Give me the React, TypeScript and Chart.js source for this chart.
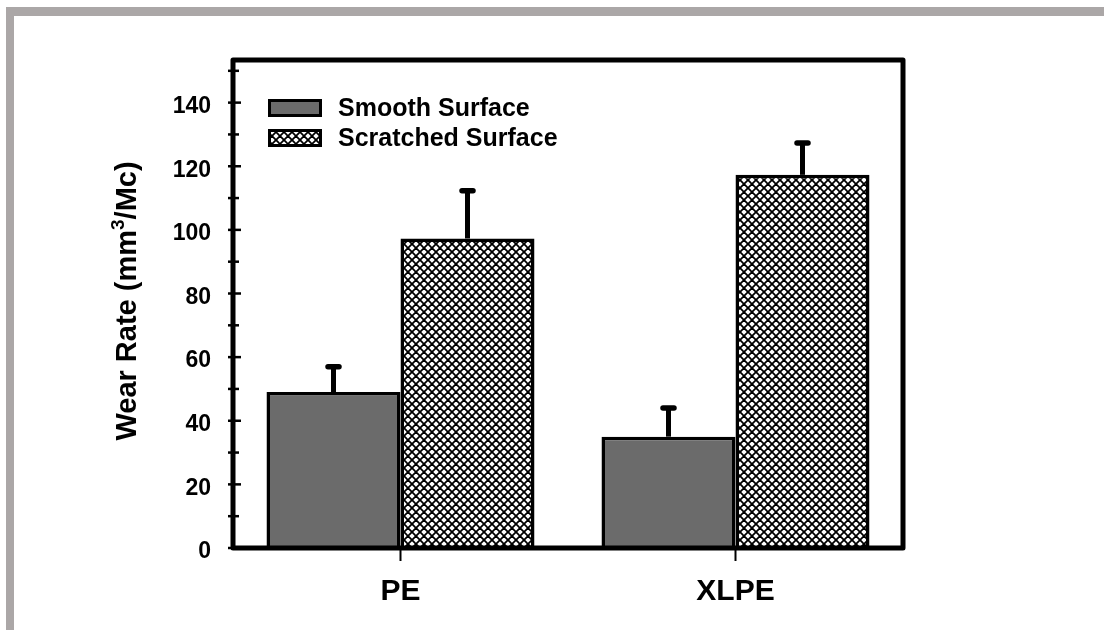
import React, { useEffect, useRef } from 'react';
import { Chart, registerables } from 'chart.js';

Chart.register(...registerables);

const categories = ['PE', 'XLPE'];
const seriesLabels = ['Smooth Surface', 'Scratched Surface'];
const smoothValues = [49, 35];
const smoothErrors = [8, 9];
const scratchedValues = [97.3, 117.3];
const scratchedErrors = [15, 10];
const yMin = 0;
const yMax = 153.4;
const yStep = 20;
const yMinorStep = 10;
const yTitleParts = ['Wear Rate (mm', '3', '/Mc)'];

const FONT = "'Liberation Sans', Arial, Helvetica, sans-serif";
const SMOOTH_COLOR = '#6b6b6b';

function makeHatch(): CanvasPattern | string {
  const s = 8;
  const c = document.createElement('canvas');
  c.width = s;
  c.height = s;
  const g = c.getContext('2d');
  if (!g) return '#999';
  g.fillStyle = '#ffffff';
  g.fillRect(0, 0, s, s);
  g.strokeStyle = '#000000';
  g.lineWidth = 1.8;
  for (const k of [-s, 0, s]) {
    g.beginPath();
    g.moveTo(k, 0);
    g.lineTo(k + s, s);
    g.stroke();
    g.beginPath();
    g.moveTo(k, s);
    g.lineTo(k + s, 0);
    g.stroke();
  }
  return g.createPattern(c, 'repeat') || '#999';
}

export default function App() {
  const ref = useRef<HTMLCanvasElement | null>(null);

  useEffect(() => {
    if (!ref.current) return;
    const hatch = makeHatch();
    const errorSets = [smoothErrors, scratchedErrors];

    const backgroundPlugin = {
      id: 'bgFrame',
      beforeDraw(chart: any) {
        const ctx = chart.ctx;
        ctx.save();
        ctx.fillStyle = '#ffffff';
        ctx.fillRect(0, 0, chart.width, chart.height);
        ctx.fillStyle = '#aba7a7';
        ctx.fillRect(6, 7, chart.width - 6, 9);
        ctx.fillRect(6, 7, 8, chart.height - 7);
        ctx.restore();
      },
    };

    const decorPlugin = {
      id: 'decor',
      afterDatasetsDraw(chart: any) {
        const ctx = chart.ctx;
        const y = chart.scales.y;
        const x = chart.scales.x;
        const area = chart.chartArea;
        ctx.save();
        // error bars (upper only)
        errorSets.forEach((errs, di) => {
          const meta = chart.getDatasetMeta(di);
          meta.data.forEach((bar: any, i: number) => {
            const v = chart.data.datasets[di].data[i] as number;
            const top = y.getPixelForValue(v + errs[i]);
            ctx.strokeStyle = '#000';
            ctx.lineCap = 'butt';
            ctx.lineWidth = 5;
            ctx.beginPath();
            ctx.moveTo(bar.x, bar.y);
            ctx.lineTo(bar.x, top);
            ctx.stroke();
            ctx.lineCap = 'round';
            ctx.lineWidth = 5.5;
            ctx.beginPath();
            ctx.moveTo(bar.x - 5.5, top);
            ctx.lineTo(bar.x + 5.5, top);
            ctx.stroke();
          });
        });
        // frame
        ctx.lineCap = 'butt';
        ctx.lineJoin = 'round';
        ctx.lineWidth = 5;
        ctx.strokeStyle = '#000';
        ctx.strokeRect(area.left, area.top, area.right - area.left, area.bottom - area.top);
        // y ticks
        for (let v = yMin; v <= yMax; v += yMinorStep) {
          const py = y.getPixelForValue(v);
          const major = Math.round(v) % yStep === 0;
          ctx.lineWidth = 2.5;
          ctx.beginPath();
          ctx.moveTo(area.left - 5, py);
          ctx.lineTo(area.left + (major ? 8 : 6), py);
          ctx.stroke();
        }
        // x ticks
        categories.forEach((_, i) => {
          const px = x.getPixelForValue(i);
          ctx.lineWidth = 2;
          ctx.beginPath();
          ctx.moveTo(px, area.bottom);
          ctx.lineTo(px, area.bottom + 13);
          ctx.stroke();
        });
        // legend
        const fills = [SMOOTH_COLOR, hatch];
        seriesLabels.forEach((lab, i) => {
          const top = 99 + i * 30;
          ctx.fillStyle = fills[i] as any;
          ctx.fillRect(268, top, 54, 18);
          ctx.lineWidth = 3;
          ctx.lineJoin = 'miter';
          ctx.strokeStyle = '#000';
          ctx.strokeRect(269.5, top + 1.5, 51, 15);
          ctx.fillStyle = '#000';
          ctx.font = `bold 25px ${FONT}`;
          ctx.textAlign = 'left';
          ctx.textBaseline = 'middle';
          ctx.fillText(lab, 338, top + 10);
        });
        // y title
        ctx.translate(128, 301);
        ctx.rotate(-Math.PI / 2);
        const bigFont = `bold 29px ${FONT}`;
        const smallFont = `bold 19px ${FONT}`;
        ctx.font = bigFont;
        const w0 = ctx.measureText(yTitleParts[0]).width;
        const w2 = ctx.measureText(yTitleParts[2]).width;
        ctx.font = smallFont;
        const w1 = ctx.measureText(yTitleParts[1]).width;
        const total = w0 + w1 + w2;
        let cx = -total / 2;
        ctx.fillStyle = '#000';
        ctx.textAlign = 'left';
        ctx.textBaseline = 'middle';
        ctx.font = bigFont;
        ctx.fillText(yTitleParts[0], cx, 0);
        cx += w0;
        ctx.font = smallFont;
        ctx.fillText(yTitleParts[1], cx, -9);
        cx += w1;
        ctx.font = bigFont;
        ctx.fillText(yTitleParts[2], cx, 0);
        ctx.restore();
      },
    };

    const chart = new Chart(ref.current, {
      type: 'bar',
      data: {
        labels: categories,
        datasets: [
          {
            label: seriesLabels[0],
            data: smoothValues,
            backgroundColor: SMOOTH_COLOR,
            borderColor: '#000',
            borderWidth: 3.5,
          },
          {
            label: seriesLabels[1],
            data: scratchedValues,
            backgroundColor: hatch as any,
            borderColor: '#000',
            borderWidth: 3.5,
          },
        ],
      },
      options: {
        responsive: false,
        animation: false,
        events: [],
        layout: { padding: { left: 0, top: 60, right: 201, bottom: 0 } },
        plugins: {
          legend: { display: false },
          tooltip: { enabled: false },
          title: { display: false },
        },
        datasets: {
          bar: { categoryPercentage: 0.8, barPercentage: 1.0 },
        },
        scales: {
          x: {
            grid: { display: false, drawTicks: false },
            border: { display: false },
            ticks: {
              color: '#000',
              padding: 26,
              font: { family: FONT, size: 30, weight: 'bold' },
            },
            afterFit(scale: any) {
              scale.height = 82;
            },
          },
          y: {
            min: yMin,
            max: yMax,
            grid: { display: false, drawTicks: false },
            border: { display: false },
            ticks: {
              stepSize: yStep,
              includeBounds: false,
              color: '#000',
              padding: 22,
              labelOffset: 4,
              font: { family: FONT, size: 23, weight: 'bold' },
              callback: (v: any) => (Math.round(v) % yStep === 0 ? String(v) : ''),
            },
            afterFit(scale: any) {
              scale.width = 233;
            },
          },
        },
      } as any,
      plugins: [backgroundPlugin, decorPlugin],
    });
    return () => chart.destroy();
  }, []);

  return (
    <div style={{ position: 'fixed', left: 0, top: 0, width: 1104, height: 630 }}>
      <canvas ref={ref} width={1104} height={630} style={{ display: 'block' }} />
    </div>
  );
}
